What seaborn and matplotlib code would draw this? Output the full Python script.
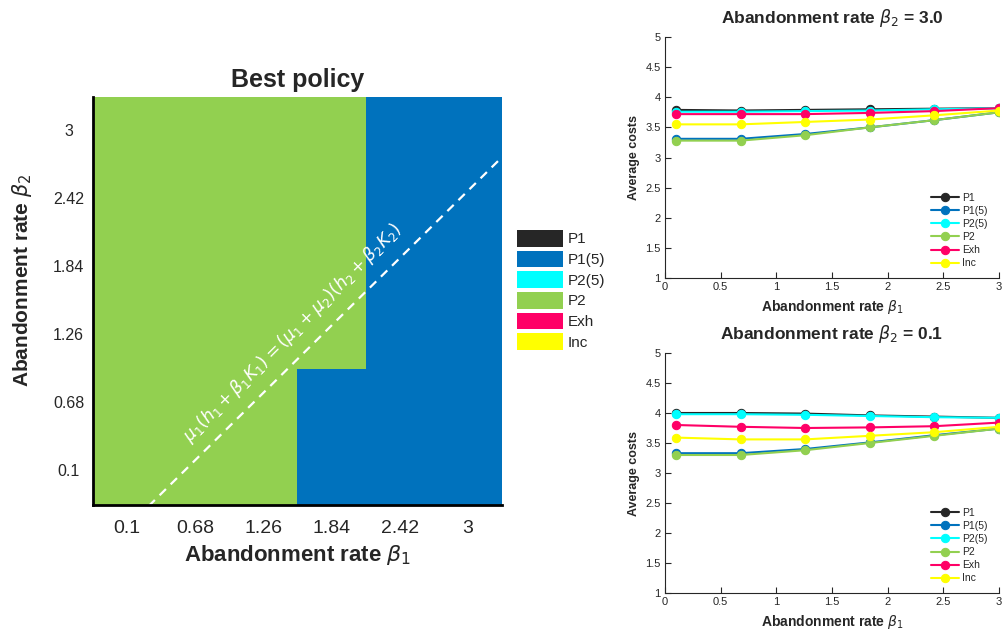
import numpy as np
import pandas as pd
import matplotlib
matplotlib.use('Agg')
import matplotlib.pyplot as plt
import seaborn as sns
from matplotlib.colors import ListedColormap
from matplotlib.patches import Patch

# ---------------- data ----------------
policies = ['P1', 'P1(5)', 'P2(5)', 'P2', 'Exh', 'Inc']
policy_colors = ['#262626', '#0072BD', '#00FFFF', '#92D050', '#FF0066', '#FFFF00']

beta_values = [0.1, 0.68, 1.26, 1.84, 2.42, 3.0]
beta_tick_labels = ['0.1', '0.68', '1.26', '1.84', '2.42', '3']

# best policy index; rows: beta2 = 3 (top) ... 0.1 (bottom); cols: beta1 = 0.1 ... 3
best_policy = [
    [3, 3, 3, 3, 1, 1],
    [3, 3, 3, 3, 1, 1],
    [3, 3, 3, 3, 1, 1],
    [3, 3, 3, 3, 1, 1],
    [3, 3, 3, 1, 1, 1],
    [3, 3, 3, 1, 1, 1],
]

# boundary  mu1(h1+beta1 K1) = (mu1+mu2)(h2+beta2 K2)  ->  beta2 = slope*beta1 + intercept
boundary_slope = 0.99
boundary_intercept = -0.48

beta1 = [0.1, 0.68, 1.26, 1.84, 2.42, 3.0]
costs_beta2_30 = {
    'P1':    [3.79, 3.78, 3.79, 3.80, 3.81, 3.82],
    'P1(5)': [3.31, 3.31, 3.39, 3.50, 3.62, 3.75],
    'P2(5)': [3.76, 3.76, 3.77, 3.78, 3.80, 3.82],
    'P2':    [3.28, 3.28, 3.37, 3.50, 3.62, 3.75],
    'Exh':   [3.72, 3.72, 3.72, 3.74, 3.77, 3.82],
    'Inc':   [3.55, 3.55, 3.59, 3.63, 3.70, 3.78],
}
costs_beta2_01 = {
    'P1':    [4.00, 4.00, 3.99, 3.96, 3.94, 3.92],
    'P1(5)': [3.33, 3.33, 3.40, 3.51, 3.63, 3.74],
    'P2(5)': [3.98, 3.98, 3.97, 3.95, 3.93, 3.92],
    'P2':    [3.30, 3.30, 3.38, 3.50, 3.62, 3.74],
    'Exh':   [3.80, 3.77, 3.75, 3.76, 3.78, 3.84],
    'Inc':   [3.59, 3.56, 3.56, 3.62, 3.68, 3.77],
}

# ---------------- style ----------------
sns.set_theme(style='white')
plt.rcParams['font.family'] = ['Liberation Sans', 'DejaVu Sans']
plt.rcParams['mathtext.fontset'] = 'dejavusans'

W, H = 1004, 638
fig = plt.figure(figsize=(W / 100, H / 100), dpi=100)

def px_axes(l, t, r, b):
    return fig.add_axes([l / W, 1 - b / H, (r - l) / W, (b - t) / H])

# ---------------- heatmap ----------------
ax = px_axes(93, 97, 502, 505)
df = pd.DataFrame(best_policy, index=beta_tick_labels[::-1], columns=beta_tick_labels)
sns.heatmap(df, ax=ax, cmap=ListedColormap(policy_colors), vmin=-0.5, vmax=5.5,
            cbar=False, square=False, linewidths=0)
ax.set_yticklabels(ax.get_yticklabels(), rotation=0)
ax.tick_params(axis='both', length=0, colors='#262626')
ax.tick_params(axis='x', pad=11, labelsize=14)
ax.tick_params(axis='y', pad=17.5, labelsize=11.5)
for lbl in ax.get_yticklabels():
    lbl.set_ha('center')
for s in ['left', 'bottom']:
    ax.spines[s].set_visible(True)
    ax.spines[s].set_color('black')
    ax.spines[s].set_linewidth(2)
for s in ['top', 'right']:
    ax.spines[s].set_visible(False)
ax.set_title('Best policy', fontsize=18, fontweight='bold', pad=7)
ax.set_xlabel(r'Abandonment rate $\beta_1$', fontsize=16, fontweight='bold', labelpad=4)
ax.set_ylabel(r'Abandonment rate $\beta_2$', fontsize=15, fontweight='bold')
ax.yaxis.set_label_coords(-0.144, 0.55)

# map beta values to heatmap cell coordinates
step = beta_values[1] - beta_values[0]
def bx(b):
    return 0.5 + (b - beta_values[0]) / step
def by(b):
    return 5.5 - (b - beta_values[0]) / step

b1_line = np.linspace(0.0, 3.6, 50)
b2_line = boundary_slope * b1_line + boundary_intercept
ax.plot(bx(b1_line), by(b2_line), color='white', lw=1.6, ls=(0, (4, 3)), clip_on=True)
ax.set_xlim(0, 6)
ax.set_ylim(6, 0)

bt = 1.64
ax.annotate(r'$\mu_1(h_1 + \beta_1 K_1) = (\mu_1 + \mu_2)(h_2 + \beta_2 K_2)$',
            xy=(bx(bt), by(boundary_slope * bt + boundary_intercept)),
            xytext=(-11.2, 11.2), textcoords='offset points',
            rotation=45, rotation_mode='anchor', ha='center', va='center',
            color='white', fontsize=12.5)

fig.legend(handles=[Patch(facecolor=c, edgecolor='none', label=p)
                    for p, c in zip(policies, policy_colors)],
           loc='upper left', bbox_to_anchor=(517 / W, 1 - 230 / H),
           frameon=False, fontsize=11, handlelength=3.0, handleheight=1.3,
           labelspacing=0.26, handletextpad=0.3, borderpad=0, borderaxespad=0)

# ---------------- line plots ----------------
def line_panel(axl, costs, title):
    for p, c in zip(policies, policy_colors):
        sns.lineplot(x=beta1, y=costs[p], ax=axl, color=c, marker='o', lw=1.5,
                     markersize=6, markeredgecolor=c, label=p)
    axl.set_xlim(0, 3)
    axl.set_ylim(1, 5)
    axl.set_xticks([0, 0.5, 1, 1.5, 2, 2.5, 3])
    axl.set_xticklabels(['0', '0.5', '1', '1.5', '2', '2.5', '3'])
    axl.set_yticks([1, 1.5, 2, 2.5, 3, 3.5, 4, 4.5, 5])
    axl.set_yticklabels(['1', '1.5', '2', '2.5', '3', '3.5', '4', '4.5', '5'])
    axl.tick_params(direction='in', length=4, width=0.8, labelsize=8,
                    colors='#262626', left=True, bottom=True, pad=3)
    for s in ['top', 'right']:
        axl.spines[s].set_visible(False)
    for s in ['left', 'bottom']:
        axl.spines[s].set_color('#262626')
        axl.spines[s].set_linewidth(0.8)
    axl.set_title(title, fontsize=12.5, fontweight='bold', pad=10)
    axl.set_xlabel(r'Abandonment rate $\beta_1$', fontsize=10, fontweight='bold', labelpad=4)
    axl.set_ylabel('Average costs', fontsize=9, fontweight='bold', labelpad=4)
    axl.legend(loc='lower right', bbox_to_anchor=(0.965, 0.04), frameon=False,
               fontsize=7.5, handlelength=2.7, labelspacing=0.3, handletextpad=0.3,
               borderpad=0, borderaxespad=0)

ax1 = px_axes(665, 37, 999, 278)
line_panel(ax1, costs_beta2_30, r'Abandonment rate $\beta_2$ = 3.0')
ax2 = px_axes(665, 353, 999, 593)
line_panel(ax2, costs_beta2_01, r'Abandonment rate $\beta_2$ = 0.1')

fig.savefig('out.png', dpi=100)
